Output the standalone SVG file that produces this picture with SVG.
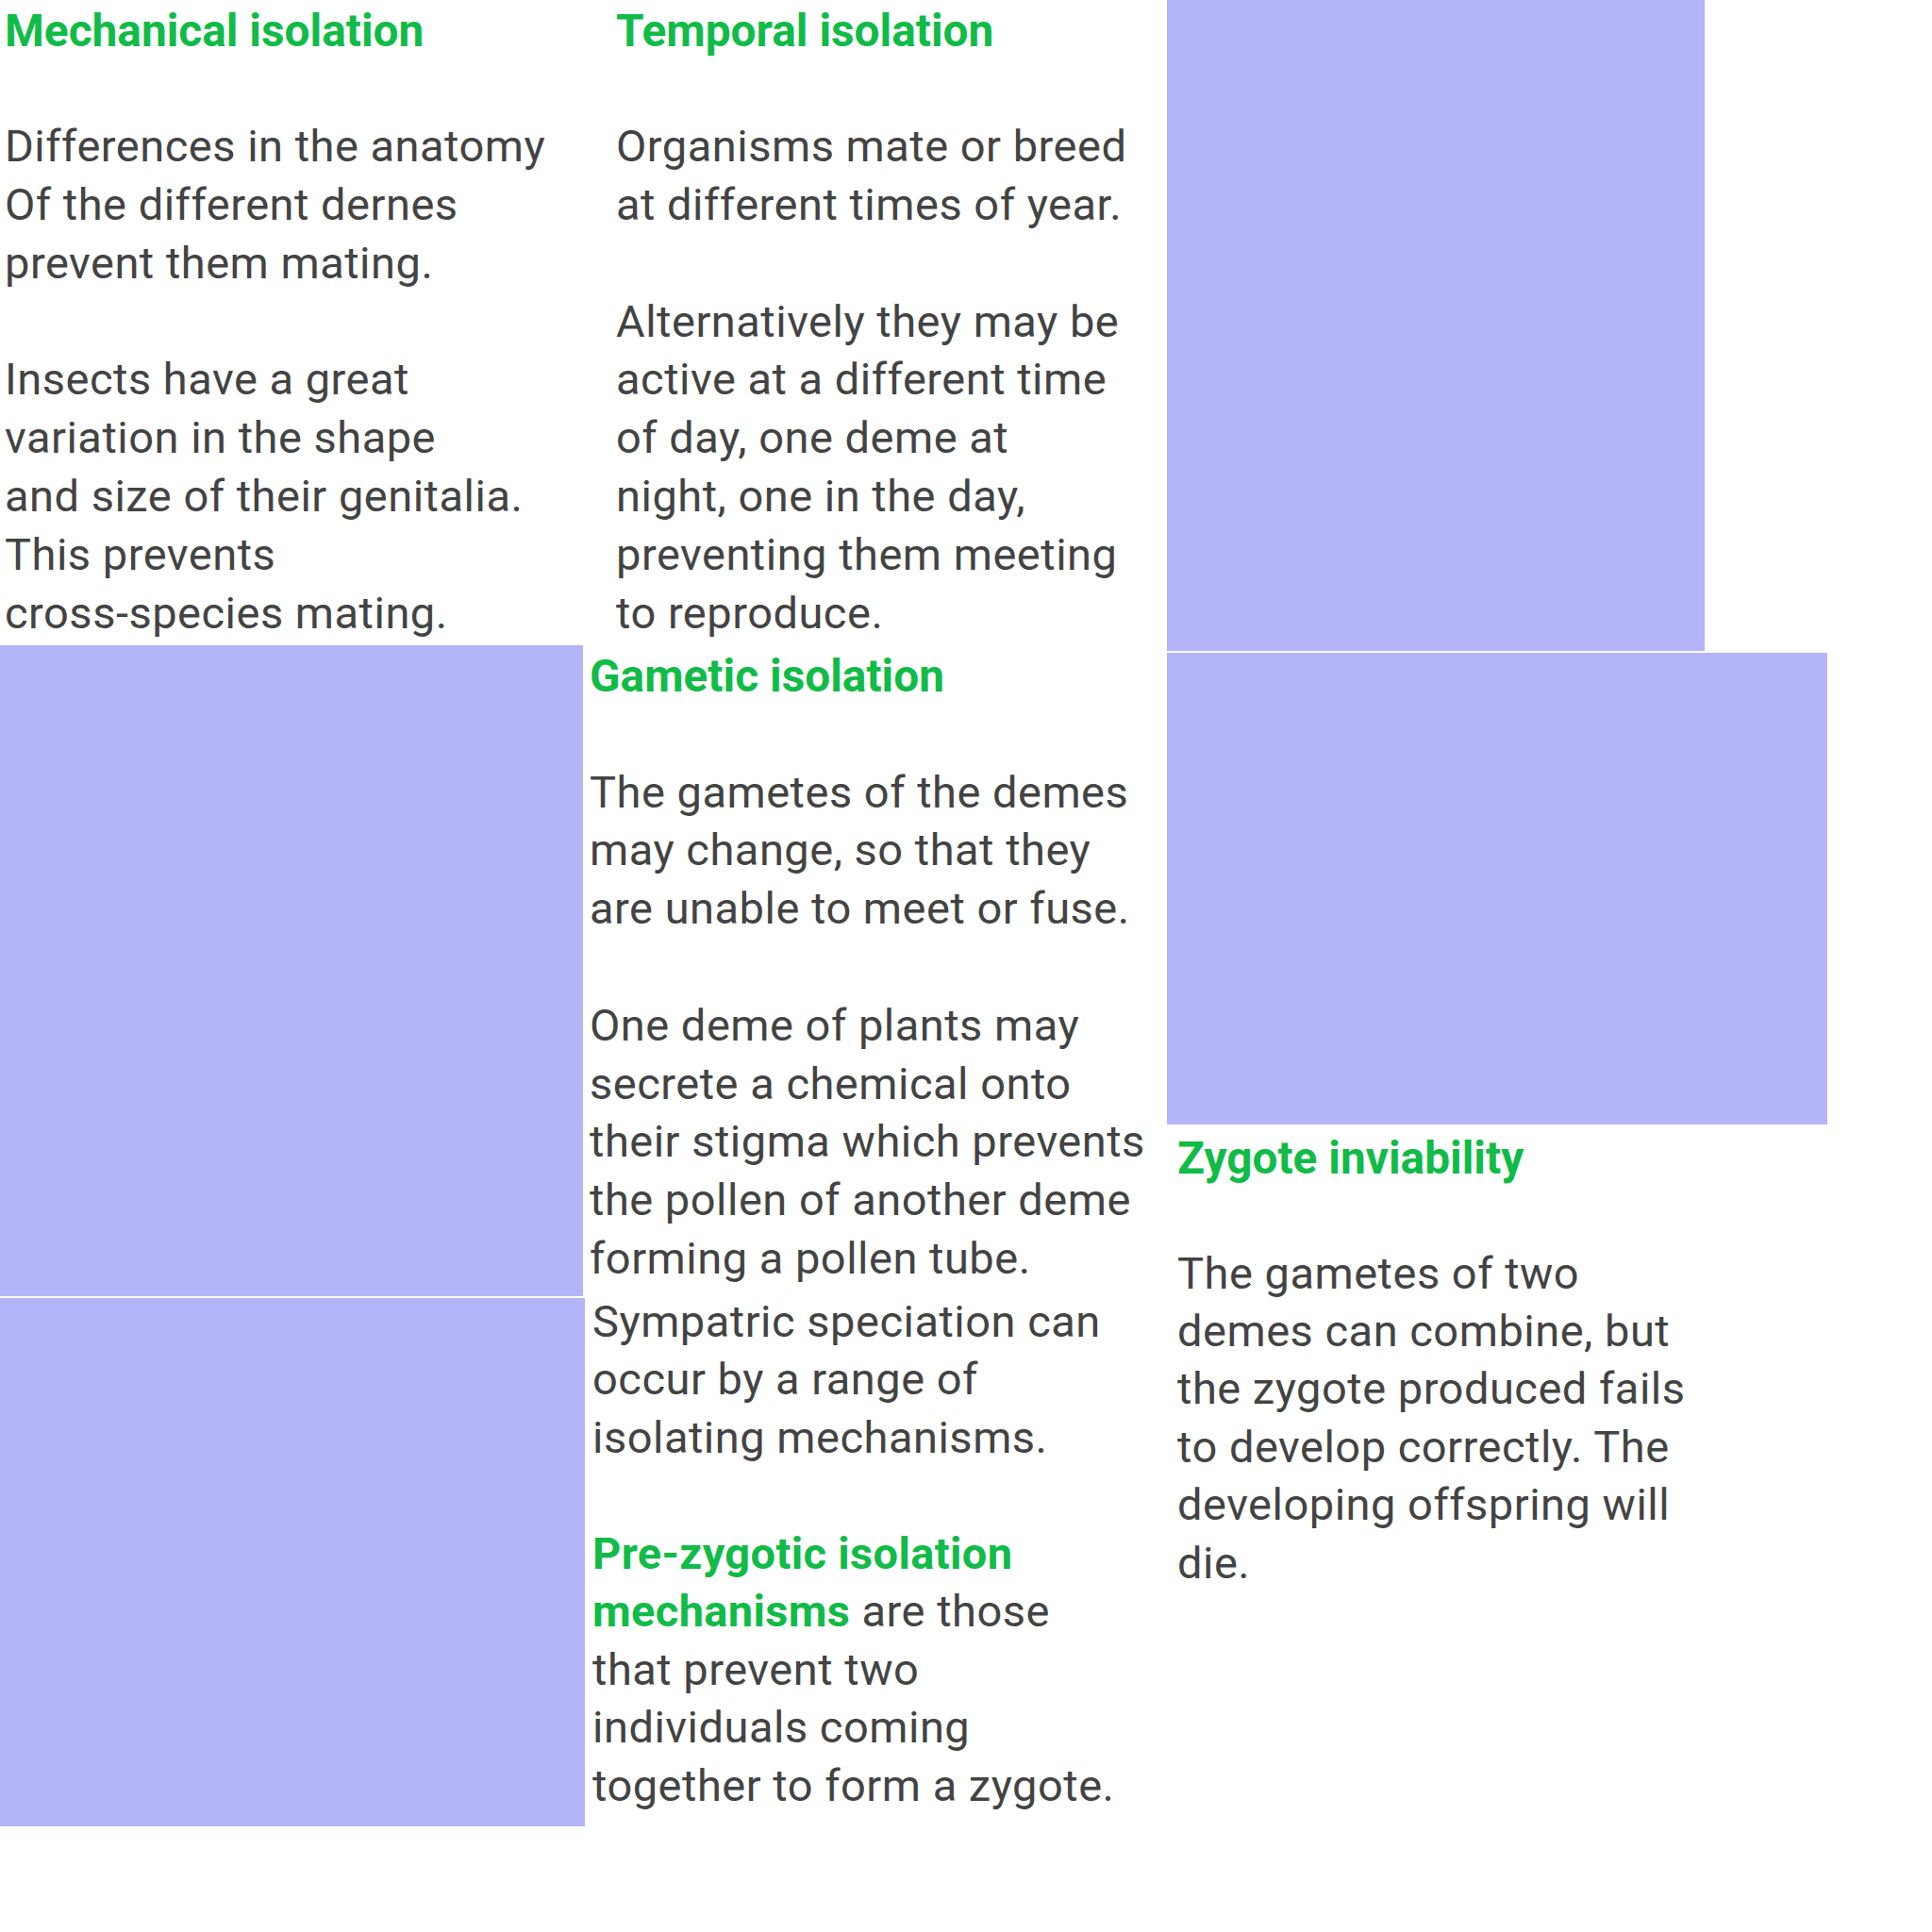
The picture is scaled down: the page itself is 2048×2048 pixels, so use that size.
<svg xmlns="http://www.w3.org/2000/svg" width="2048" height="2048" viewBox="0 0 2048 2048">
<style>
.bg{fill:#ffffff}
.box{fill:#b3b5f8}
.h{font-family:Roboto,"Liberation Sans",sans-serif;font-weight:bold;font-size:47.8px;fill:#10bb47}
.b{font-family:Roboto,"Liberation Sans",sans-serif;font-size:47px;letter-spacing:0.5px;fill:#434343}
.g{font-weight:bold;fill:#10bb47;letter-spacing:0.35px}
</style>
<rect class="bg" x="0" y="0" width="2048" height="2048"/>
<g id="box-top-right"><rect class="box" x="1237" y="0" width="570" height="690"/></g>
<g id="box-mid-right"><rect class="box" x="1237" y="692" width="700" height="500"/></g>
<g id="box-mid-left"><rect class="box" x="0" y="684" width="618" height="690"/></g>
<g id="box-bottom-left"><rect class="box" x="0" y="1376" width="620" height="560"/></g>
<g id="mechanical">
<text class="h" x="5" y="49">Mechanical isolation</text>
<text class="b" x="5" y="171">Differences in the anatomy</text>
<text class="b" x="5" y="233">Of the different dernes</text>
<text class="b" x="5" y="295">prevent them mating.</text>
<text class="b" x="5" y="418">Insects have a great</text>
<text class="b" x="5" y="480">variation in the shape</text>
<text class="b" x="5" y="542">and size of their genitalia.</text>
<text class="b" x="5" y="604">This prevents</text>
<text class="b" x="5" y="666">cross-species mating.</text>
</g>
<g id="temporal">
<text class="h" x="653" y="49">Temporal isolation</text>
<text class="b" x="653" y="171">Organisms mate or breed</text>
<text class="b" x="653" y="233">at different times of year.</text>
<text class="b" x="653" y="357">Alternatively they may be</text>
<text class="b" x="653" y="418">active at a different time</text>
<text class="b" x="653" y="480">of day, one deme at</text>
<text class="b" x="653" y="542">night, one in the day,</text>
<text class="b" x="653" y="604">preventing them meeting</text>
<text class="b" x="653" y="666">to reproduce.</text>
</g>
<g id="gametic">
<text class="h" x="625" y="733">Gametic isolation</text>
<text class="b" x="625" y="855.6">The gametes of the demes</text>
<text class="b" x="625" y="917.4">may change, so that they</text>
<text class="b" x="625" y="979.2">are unable to meet or fuse.</text>
<text class="b" x="625" y="1102.8">One deme of plants may</text>
<text class="b" x="625" y="1164.6">secrete a chemical onto</text>
<text class="b" x="625" y="1226.4">their stigma which prevents</text>
<text class="b" x="625" y="1288.2">the pollen of another deme</text>
<text class="b" x="625" y="1350">forming a pollen tube.</text>
</g>
<g id="sympatric">
<text class="b" x="628" y="1416.5">Sympatric speciation can</text>
<text class="b" x="628" y="1478">occur by a range of</text>
<text class="b" x="628" y="1539.5">isolating mechanisms.</text>
<text class="b" x="628" y="1662.5"><tspan class="g">Pre-zygotic isolation</tspan></text>
<text class="b" x="628" y="1724"><tspan class="g">mechanisms</tspan> are those</text>
<text class="b" x="628" y="1785.5">that prevent two</text>
<text class="b" x="628" y="1847">individuals coming</text>
<text class="b" x="628" y="1908.5">together to form a zygote.</text>
</g>
<g id="zygote">
<text class="h" x="1248" y="1243.6">Zygote inviability</text>
<text class="b" x="1248" y="1366">The gametes of two</text>
<text class="b" x="1248" y="1427">demes can combine, but</text>
<text class="b" x="1248" y="1488">the zygote produced fails</text>
<text class="b" x="1248" y="1550">to develop correctly. The</text>
<text class="b" x="1248" y="1611">developing offspring will</text>
<text class="b" x="1248" y="1673">die.</text>
</g>
<g id="connectors"/>
</svg>
